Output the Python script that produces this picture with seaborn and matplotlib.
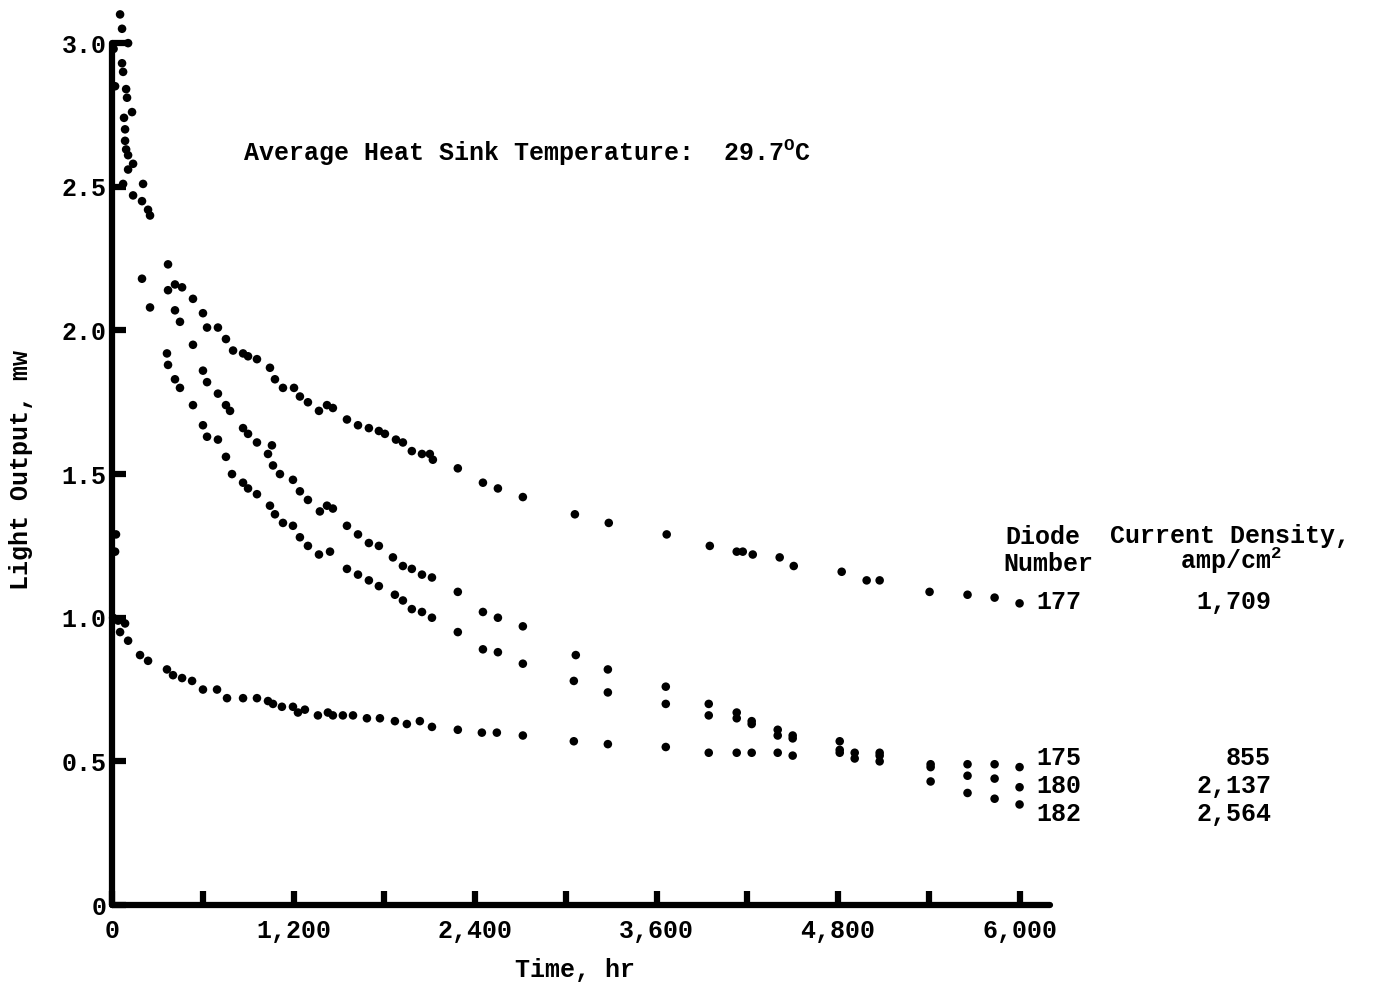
import matplotlib
matplotlib.use('Agg')

import matplotlib.pyplot as plt
import seaborn as sns
import pandas as pd

# ================= DATA =================
# Time (hr) and light output (mW)
t_177 = [10, 20, 53, 66, 106, 66, 73, 93, 99, 132, 79, 86, 86, 93, 106, 139, 106, 73, 205, 139,
         198, 238, 251, 370, 416, 463, 535, 601, 628, 700, 753, 800, 866, 899, 958, 1044, 1077,
         1130, 1203, 1242, 1295, 1368, 1421, 1460, 1553, 1626, 1698, 1764, 1804, 1877, 1923,
         1982, 2049, 2101, 2121, 2286, 2452, 2551, 2716, 3060, 3284, 3667, 3952, 4130, 4170,
         4236, 4414, 4507, 4824, 4989, 5075, 5405, 5656, 5835, 6000]
p_177 = [2.98, 2.85, 3.10, 3.05, 3.00, 2.93, 2.90, 2.84, 2.81, 2.76, 2.74, 2.70, 2.66, 2.63, 2.61,
         2.58, 2.56, 2.51, 2.51, 2.47, 2.45, 2.42, 2.40, 2.23, 2.16, 2.15, 2.11, 2.06, 2.01, 2.01,
         1.97, 1.93, 1.92, 1.91, 1.90, 1.87, 1.83, 1.80, 1.80, 1.77, 1.75, 1.72, 1.74, 1.73, 1.69,
         1.67, 1.66, 1.65, 1.64, 1.62, 1.61, 1.58, 1.57, 1.57, 1.55, 1.52, 1.47, 1.45, 1.42, 1.36,
         1.33, 1.29, 1.25, 1.23, 1.23, 1.22, 1.21, 1.18, 1.16, 1.13, 1.13, 1.09, 1.08, 1.07, 1.05]

t_180 = [198, 370, 416, 449, 535, 601, 628, 700, 753, 780, 866, 899, 958, 1057, 1031, 1064, 1110,
         1196, 1242, 1295, 1374, 1421, 1460, 1553, 1626, 1698, 1764, 1857, 1923, 1982, 2049, 2115,
         2286, 2452, 2551, 2716, 3066, 3278, 3661, 3945, 4130, 4229, 4401, 4500, 4811, 5075,
         5412, 5656, 5835, 6000]
p_180 = [2.18, 2.14, 2.07, 2.03, 1.95, 1.86, 1.82, 1.78, 1.74, 1.72, 1.66, 1.64, 1.61, 1.60, 1.57,
         1.53, 1.50, 1.48, 1.44, 1.41, 1.37, 1.39, 1.38, 1.32, 1.29, 1.26, 1.25, 1.21, 1.18, 1.17,
         1.15, 1.14, 1.09, 1.02, 1.00, 0.97, 0.87, 0.82, 0.76, 0.70, 0.67, 0.64, 0.61, 0.59, 0.57,
         0.53, 0.48, 0.45, 0.44, 0.41]

t_182 = [251, 363, 370, 416, 449, 535, 601, 628, 700, 753, 793, 866, 899, 958, 1044, 1077, 1130,
         1196, 1242, 1295, 1368, 1441, 1553, 1626, 1698, 1764, 1870, 1923, 1982, 2049, 2115, 2286,
         2452, 2551, 2716, 3053, 3278, 3661, 3945, 4130, 4229, 4401, 4500, 4811, 4910, 5075,
         5412, 5656, 5835, 6000]
p_182 = [2.08, 1.92, 1.88, 1.83, 1.80, 1.74, 1.67, 1.63, 1.62, 1.56, 1.50, 1.47, 1.45, 1.43, 1.39,
         1.36, 1.33, 1.32, 1.28, 1.25, 1.22, 1.23, 1.17, 1.15, 1.13, 1.11, 1.08, 1.06, 1.03, 1.02,
         1.00, 0.95, 0.89, 0.88, 0.84, 0.78, 0.74, 0.70, 0.66, 0.65, 0.63, 0.59, 0.58, 0.54, 0.53,
         0.50, 0.43, 0.39, 0.37, 0.35]

t_175 = [26, 20, 7, 40, 86, 53, 106, 185, 238, 363, 403, 463, 529, 601, 694, 760, 866, 958, 1031,
         1064, 1123, 1196, 1229, 1275, 1361, 1427, 1460, 1526, 1593, 1685, 1771, 1870, 1949, 2035,
         2115, 2286, 2445, 2544, 2716, 3053, 3278, 3661, 3945, 4130, 4229, 4401, 4500, 4811,
         4910, 5075, 5412, 5656, 5835, 6000]
p_175 = [1.29, 1.23, 1.00, 0.99, 0.98, 0.95, 0.92, 0.87, 0.85, 0.82, 0.80, 0.79, 0.78, 0.75, 0.75,
         0.72, 0.72, 0.72, 0.71, 0.70, 0.69, 0.69, 0.67, 0.68, 0.66, 0.67, 0.66, 0.66, 0.66, 0.65,
         0.65, 0.64, 0.63, 0.64, 0.62, 0.61, 0.60, 0.60, 0.59, 0.57, 0.56, 0.55, 0.53, 0.53, 0.53,
         0.53, 0.52, 0.53, 0.51, 0.52, 0.49, 0.49, 0.49, 0.48]

diodes = ["177", "175", "180", "182"]
densities = ["1,709", "855", "2,137", "2,564"]

x_ticks = [0, 600, 1200, 1800, 2400, 3000, 3600, 4200, 4800, 5400, 6000]
x_labels = ["0", "", "1,200", "", "2,400", "", "3,600", "", "4,800", "", "6,000"]
y_ticks = [0, 0.5, 1.0, 1.5, 2.0, 2.5, 3.0]
y_labels = ["0", "0.5", "1.0", "1.5", "2.0", "2.5", "3.0"]

df = pd.concat([
    pd.DataFrame({"time": t_177, "light": p_177, "diode": "177"}),
    pd.DataFrame({"time": t_175, "light": p_175, "diode": "175"}),
    pd.DataFrame({"time": t_180, "light": p_180, "diode": "180"}),
    pd.DataFrame({"time": t_182, "light": p_182, "diode": "182"}),
])

# ================= STYLE =================
sns.set_theme(style="white")
plt.rcParams.update({
    "font.family": ["Liberation Mono", "DejaVu Sans Mono"],
    "font.weight": "bold",
    "mathtext.fontset": "custom",
    "mathtext.rm": "Liberation Mono:bold",
    "mathtext.default": "rm",
    "text.color": "black",
})

fig = plt.figure(figsize=(13.75, 9.85), dpi=100)
ax = fig.add_axes([0.0815, 0.0812, 0.682, 0.875])

sns.scatterplot(data=df, x="time", y="light", hue="diode",
                palette={d: "black" for d in diodes}, s=38, linewidth=0,
                legend=False, clip_on=False, ax=ax)

ax.set_xlim(0, 6200)
ax.set_ylim(0, 3.0)

for side in ["top", "right"]:
    ax.spines[side].set_visible(False)
for side in ["left", "bottom"]:
    ax.spines[side].set_linewidth(4.5)
    ax.spines[side].set_color("black")
    ax.spines[side].set_capstyle("round")

ax.set_xticks(x_ticks)
ax.set_xticklabels(x_labels)
ax.set_yticks(y_ticks)
ax.set_yticklabels(y_labels)
ax.tick_params(axis="both", direction="in", length=10, width=4.5, color="black",
               labelsize=18, labelcolor="black", bottom=True, left=True)
ax.tick_params(axis="x", pad=10)
ax.tick_params(axis="y", pad=4)
for lab in ax.get_xticklabels() + ax.get_yticklabels():
    lab.set_fontweight("bold")

ax.set_xlabel("Time, hr", fontsize=18, fontweight="bold", color="black")
ax.set_ylabel("Light Output, mw", fontsize=18, fontweight="bold", color="black")
ax.xaxis.set_label_coords(0.494, -0.062)
ax.yaxis.set_label_coords(-0.084, 0.505)

# ================= ANNOTATIONS =================
fig.text(0.1767, 0.8447, "Average Heat Sink Temperature:  29.7$^{\\mathrm{O}}$C",
         fontsize=18, fontweight="bold", va="center", ha="left")

fig.text(0.731, 0.455, "Diode", fontsize=18, fontweight="bold", va="center")
fig.text(0.730, 0.427, "Number", fontsize=18, fontweight="bold", va="center")
fig.text(0.807, 0.456, "Current Density,", fontsize=18, fontweight="bold", va="center")
fig.text(0.895, 0.431, "amp/cm$^{2}$", fontsize=18, fontweight="bold", va="center", ha="center")

label_y = [0.389, 0.2305, 0.202, 0.174]
for d, c, yy in zip(diodes, densities, label_y):
    fig.text(0.7535, yy, d, fontsize=18, fontweight="bold", va="center", ha="left")
    fig.text(0.9244, yy, c, fontsize=18, fontweight="bold", va="center", ha="right")

fig.savefig("out.png", dpi=100, facecolor="white")
plt.close(fig)
